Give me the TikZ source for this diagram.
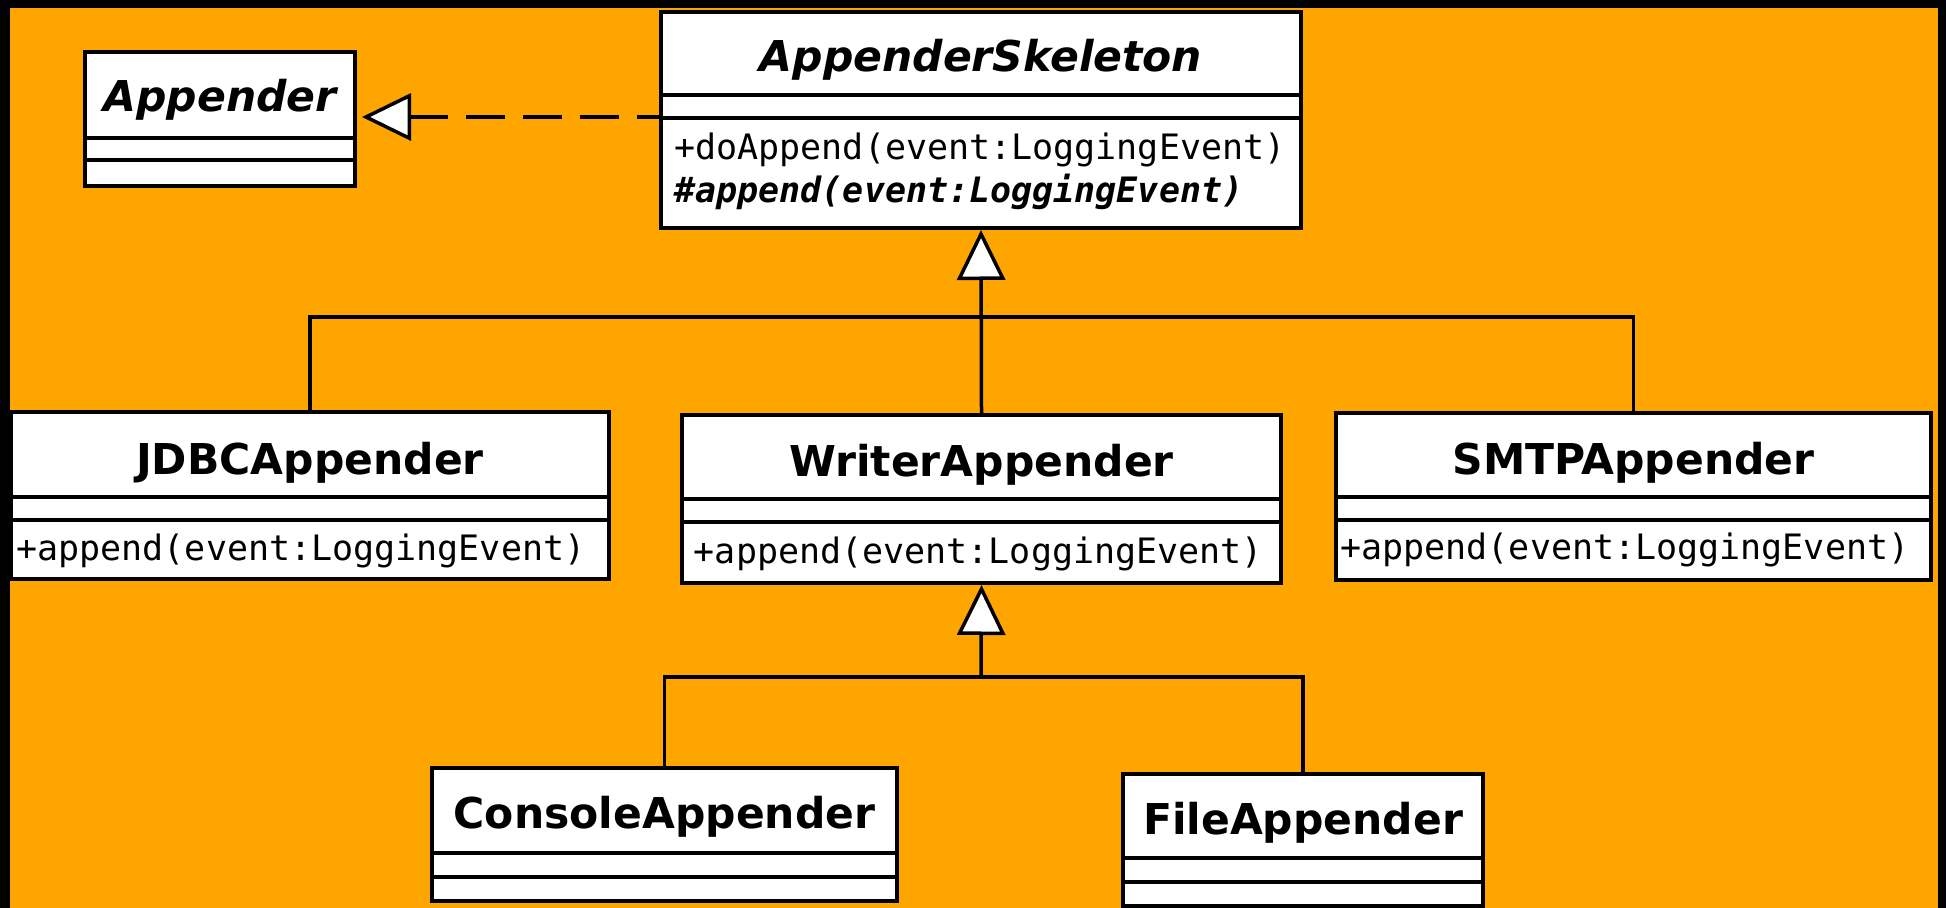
\documentclass[tikz,border=0pt]{standalone}
\usepackage{fontspec}
\usetikzlibrary{arrows.meta,fit}
\newfontfamily\namefont{DejaVu Sans}
\newfontfamily\opfont{DejaVu Sans Mono}
\definecolor{canvas}{RGB}{255,165,0}

\tikzset{
  x=0.5pt, y=-0.5pt,
  classbox/.style={draw=black, fill=white, line width=2pt, inner sep=0pt},
  divider/.style={draw=black, line width=2pt},
  classname/.style={inner sep=0pt, anchor=base,
    font=\namefont\fontsize{21.25pt}{25pt}\selectfont\bfseries},
  abstractname/.style={classname, font=\namefont\fontsize{21.25pt}{25pt}\selectfont\bfseries\itshape},
  operation/.style={inner sep=0pt, anchor=base west,
    font=\opfont\fontsize{17.5pt}{21pt}\selectfont},
  abstractop/.style={operation, font=\opfont\fontsize{17.5pt}{21pt}\selectfont\bfseries\itshape},
  link/.style={draw=black, line width=1.75pt},
  inherit/.style={link, -{Triangle[length=25pt,width=24pt,fill=white]}},
  realize/.style={link, dash pattern=on 19.5pt off 9pt, dash phase=7.5pt,
    shorten >=2.5pt, -{Triangle[length=24.5pt,width=23.5pt,fill=white]}}
}

% class box: name, left, top, right, bottom, first and second divider
\newcommand{\umlbox}[7]{%
  \node[classbox, fit={(#2,#3) (#4,#5)}] (#1) {};
  \draw[divider] (#2,#6) -- (#4,#6);
  \draw[divider] (#2,#7) -- (#4,#7);
}

\begin{document}
\begin{tikzpicture}
  \useasboundingbox (0,0) rectangle (1946,908);
  \fill[black] (0,0) rectangle (1946,908);
  \fill[canvas] (10,8) rectangle (1938,908);

  % classes
  \umlbox{app}{85}{52}{355}{186}{138}{160}
  \node[abstractname] (app-name) at (220,112) {Appender};

  \umlbox{skel}{661}{12}{1301}{228}{95}{118}
  \node[abstractname] (skel-name) at (981,72) {AppenderSkeleton};
  \node[operation] (skel-op1) at (674,160) {+doAppend(event:LoggingEvent)};
  \node[abstractop] (skel-op2) at (674,203) {\#append(event:LoggingEvent)};

  \umlbox{jdbc}{11}{412}{609}{579}{497}{520}
  \node[classname] (jdbc-name) at (310,474) {JDBCAppender};
  \node[operation] (jdbc-op) at (16,560) {+append(event:LoggingEvent)};

  \umlbox{writer}{682}{415}{1281}{583}{499}{522}
  \node[classname] (writer-name) at (981.5,476) {WriterAppender};
  \node[operation] (writer-op) at (693.5,563) {+append(event:LoggingEvent)};

  \umlbox{smtp}{1336}{413}{1931}{580}{497}{520}
  \node[classname] (smtp-name) at (1633.5,474) {SMTPAppender};
  \node[operation] (smtp-op) at (1340,559) {+append(event:LoggingEvent)};

  \umlbox{console}{432}{768}{897}{901}{853}{877}
  \node[classname] (console-name) at (664.5,828) {ConsoleAppender};

  \umlbox{file}{1123}{774}{1483}{906}{858}{882}
  \node[classname] (file-name) at (1303,834) {FileAppender};

  % relations
  \coordinate (realize-start) at (661,117);
  \draw[realize] (realize-start) -- (app.east |- realize-start);

  \coordinate (busA) at (981,317);
  \draw[link] (jdbc.north) |- (busA) -| (smtp.north);
  \draw[inherit] (writer.north) -- (skel.south);

  \coordinate (busB) at (981,677);
  \draw[link] (console.north) |- (busB) -| (file.north);
  \draw[inherit] (busB) -- (writer.south);
\end{tikzpicture}
\end{document}
